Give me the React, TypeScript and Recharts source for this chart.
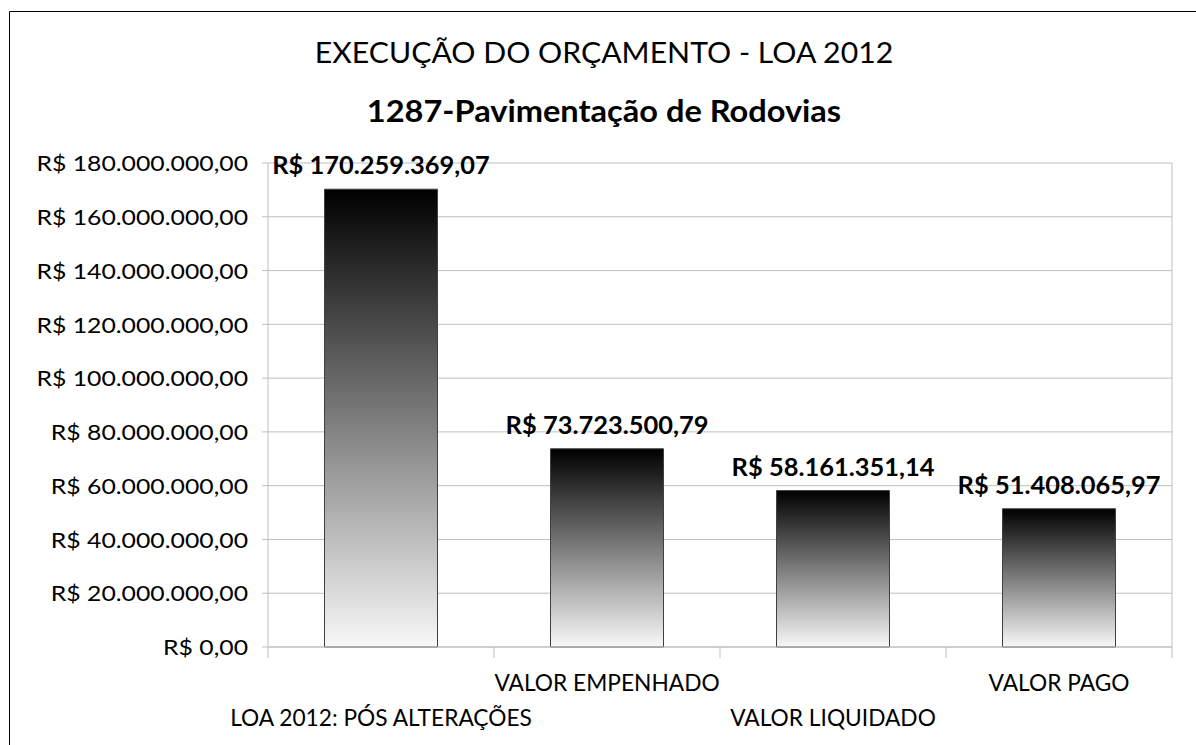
import { BarChart, Bar, XAxis, YAxis, CartesianGrid, LabelList } from "recharts";

const categories = [
  "LOA 2012: PÓS ALTERAÇÕES",
  "VALOR EMPENHADO",
  "VALOR LIQUIDADO",
  "VALOR PAGO",
];
const values = [170259369.07, 73723500.79, 58161351.14, 51408065.97];
const yTicks = [0, 20000000, 40000000, 60000000, 80000000, 100000000, 120000000, 140000000, 160000000, 180000000];

const data = categories.map((name, i) => ({ name, value: values[i] }));

const W = 1196;
const H = 745;
const M = { top: 163, right: 24, bottom: 0, left: 8 };
const Y_W = 260;
const X_H = 98;
const PLOT_W = W - M.left - Y_W - M.right;
const PLOT_H = H - M.top - X_H;
const BAND = PLOT_W / categories.length;
const FONT = "Lato, 'Open Sans', sans-serif";
const GRID = "#bfbfbf";

function brl(v: number) {
  const [int, dec] = v.toFixed(2).split(".");
  return "R$ " + int.replace(/\B(?=(\d{3})+(?!\d))/g, ".") + "," + dec;
}

function YTick(props: any) {
  const { x, y, payload } = props;
  return (
    <text
      transform={`translate(${x},${y}) scale(1.18,1)`}
      textAnchor="end"
      dominantBaseline="central"
      fontFamily={FONT}
      fontSize={21}
      fill="#000"
    >
      {brl(payload.value)}
    </text>
  );
}

function XTick(props: any) {
  const { x, y, payload, index } = props;
  const last = index === categories.length - 1;
  return (
    <g>
      <line x1={x - BAND / 2} x2={x - BAND / 2} y1={y} y2={y + 11} stroke={GRID} />
      {last && <line x1={x + BAND / 2} x2={x + BAND / 2} y1={y - PLOT_H} y2={y + 11} stroke={GRID} />}
      <text
        transform={`translate(${x},${y + (index % 2 ? 44 : 79)}) scale(1.01,1)`}
        textAnchor="middle"
        fontFamily={FONT}
        fontSize={22.5}
        fill="#000"
      >
        {payload.value}
      </text>
    </g>
  );
}

function ValueLabel(props: any) {
  const { x, y, width, value } = props;
  return (
    <text
      transform={`translate(${x + width / 2},${y - 15}) scale(1.06,1)`}
      textAnchor="middle"
      fontFamily={FONT}
      fontWeight="bold"
      fontSize={24}
      fill="#000"
    >
      {brl(value)}
    </text>
  );
}

export default function App() {
  return (
    <div style={{ position: "absolute", left: 0, top: 0, width: W, height: H, background: "#fff" }}>
      <svg width={W} height={H} style={{ position: "absolute", left: 0, top: 0 }}>
        <path d={`M9.5 ${H} V11.5 H${W}`} fill="none" stroke="#000" strokeWidth={1} />
        <text
          transform="translate(604,63) scale(1.06,1)"
          textAnchor="middle"
          fontFamily={FONT}
          fontSize={28.5}
          fill="#000"
        >
          EXECUÇÃO DO ORÇAMENTO - LOA 2012
        </text>
        <text
          transform="translate(604,122) scale(1.085,1)"
          textAnchor="middle"
          fontFamily={FONT}
          fontWeight="bold"
          fontSize={30}
          fill="#000"
        >
          1287-Pavimentação de Rodovias
        </text>
      </svg>
      <div style={{ position: "absolute", left: 0, top: 0 }}>
        <BarChart width={W} height={H} data={data} margin={M} barCategoryGap="25%">
          <defs>
            <linearGradient id="barGrad" x1="0" y1="0" x2="0" y2="1">
              <stop offset="0%" stopColor="#000000" />
              <stop offset="100%" stopColor="#f8f8f8" />
            </linearGradient>
          </defs>
          <CartesianGrid vertical={false} stroke={GRID} />
          <XAxis
            dataKey="name"
            height={X_H}
            interval={0}
            tickLine={false}
            tickSize={0}
            tickMargin={0}
            axisLine={{ stroke: GRID }}
            tick={<XTick />}
          />
          <YAxis
            width={Y_W}
            domain={[0, 180000000]}
            ticks={yTicks}
            interval={0}
            tickSize={6}
            tickMargin={14}
            tickLine={{ stroke: GRID }}
            axisLine={{ stroke: GRID }}
            tick={<YTick />}
          />
          <Bar dataKey="value" fill="url(#barGrad)" stroke="#404040" strokeWidth={1} isAnimationActive={false}>
            <LabelList dataKey="value" content={<ValueLabel />} />
          </Bar>
        </BarChart>
      </div>
    </div>
  );
}
